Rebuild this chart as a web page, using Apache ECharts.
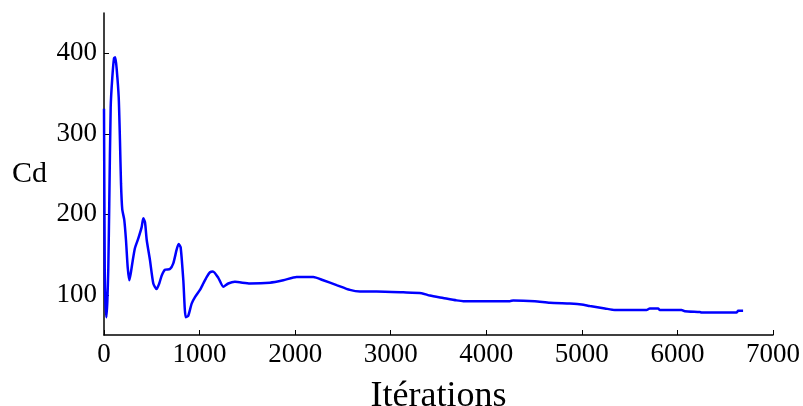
<!DOCTYPE html>
<html>
<head>
<meta charset="utf-8">
<script src="https://cdn.jsdelivr.net/npm/echarts@6/dist/echarts.min.js"></script>
<style>html,body{margin:0;padding:0;background:#fff}#c{width:803px;height:406px}</style>
</head>
<body>
<div id="c"></div>
<script>
const iterations = [0,8,15,25,35,45,55,70,87,105,118,133,154,167,178,191,212,230,248,265,279,300,324,359,394,411,429,447,481,516,551,578,604,638,690,725,760,781,802,830,855,882,917,952,1004,1039,1074,1109,1140,1196,1248,1300,1370,1527,1736,1876,2015,2190,2294,2434,2573,2678,2852,3131,3323,3410,3549,3689,3759,4247,4282,4508,4665,4874,4997,5084,5241,5345,5677,5711,5798,5816,6043,6077,6234,6252,6618,6635,6687];
const cdValues = [331,125,90,72,92,133,212,333,370,394,395,380,345,292,238,206,193,168,134,118,126,142,158,170,184,195,190,168,143,114,107,114,124,131,132,139,156,163,159,118,72,74,89,97,106,114,122,128,129,121,110,114,116,114,115,118,122,122,118,112,106,104,104,103,102,99,96,93,92,92,93,92,90,89,88,86,83,81,81,83,83,81,81,79.5,78.5,78,78,80,80];
const xTicks = [0,1000,2000,3000,4000,5000,6000,7000];
const yTicks = [100,200,300,400];

const chart = echarts.init(document.getElementById('c'));
const font = 'Liberation Serif';
chart.setOption({
  animation: false,
  grid: {left: 104, right: 30, top: 13, bottom: 71, containLabel: false, outerBoundsMode: 'none'},
  xAxis: {
    type: 'value', min: 0, max: 7000, interval: 1000,
    name: 'Itérations', nameLocation: 'middle', nameGap: 44,
    nameTextStyle: {fontFamily: font, fontSize: 36, color: '#000'},
    axisLine: {show: true, lineStyle: {color: '#000', width: 1.5}},
    axisTick: {show: true, inside: true, length: 5, customValues: xTicks, lineStyle: {color: '#000'}},
    axisLabel: {fontFamily: font, fontSize: 27, color: '#000', margin: 6, customValues: xTicks,
      formatter: v => String(v)},
    splitLine: {show: false}
  },
  yAxis: {
    type: 'value', min: 50, max: 450,
    name: 'Cd', nameLocation: 'middle', nameRotate: 0, nameGap: 57,
    nameTextStyle: {fontFamily: font, fontSize: 30, color: '#000'},
    axisLine: {show: true, lineStyle: {color: '#000', width: 1.5}},
    axisTick: {show: true, inside: true, length: 5, customValues: yTicks, lineStyle: {color: '#000'}},
    axisLabel: {fontFamily: font, fontSize: 27, color: '#000', margin: 7, customValues: yTicks},
    splitLine: {show: false}
  },
  series: [{
    type: 'line',
    data: iterations.map((x, i) => [x, cdValues[i]]),
    showSymbol: false,
    lineStyle: {color: '#0000ff', width: 2.5},
    smooth: 0.2
  }]
});
</script>
</body>
</html>
